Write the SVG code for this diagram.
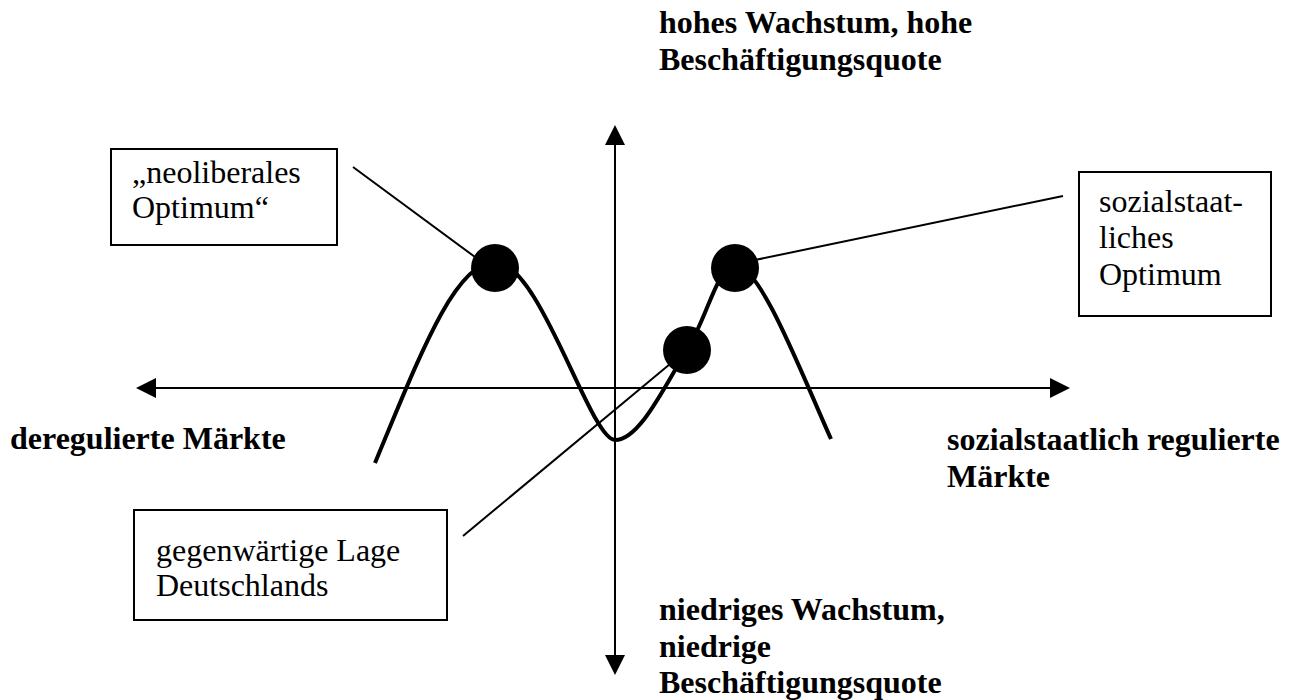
<svg xmlns="http://www.w3.org/2000/svg" width="1295" height="700" viewBox="0 0 1295 700">
<style>
text{font-family:"Liberation Serif","Times New Roman",serif;font-size:32px;fill:#000}
.b{font-weight:bold}
.box{fill:#fff;stroke:#000;stroke-width:2}
.axis{stroke:#000;stroke-width:2;fill:none}
.lead{stroke:#000;stroke-width:2;fill:none}
.curve{stroke:#000;stroke-width:4;fill:none}
.dot{fill:#000}
</style>
<defs>
<marker id="ah" markerUnits="userSpaceOnUse" markerWidth="20" markerHeight="20" refX="0" refY="10" orient="auto-start-reverse">
<path d="M0,0 L20,10 L0,20 z" fill="#000"/>
</marker>
</defs>
<rect width="1295" height="700" fill="#fff"/>
<g id="axes">
<line class="axis" x1="156" y1="388" x2="1050" y2="388" marker-start="url(#ah)" marker-end="url(#ah)"/>
<line class="axis" x1="615" y1="145" x2="615" y2="655" marker-start="url(#ah)" marker-end="url(#ah)"/>
</g>
<g id="curve">
<path class="curve" d="M375,463 C420,355 455,262 495,262 C540,262 590,440 615,440 C640,440 665,385 687,350 C707,318 718,265 735,265 C760,265 800,370 831,439"/>
</g>
<g id="connectors">
<line class="lead" x1="353" y1="167" x2="475" y2="257"/>
<line class="lead" x1="755" y1="260" x2="1063" y2="196"/>
<line class="lead" x1="670" y1="364" x2="463" y2="536"/>
</g>
<g id="dot-neoliberal"><circle class="dot" cx="495" cy="268" r="24"/></g>
<g id="dot-sozial"><circle class="dot" cx="735" cy="268" r="24"/></g>
<g id="dot-deutschland"><circle class="dot" cx="687" cy="350" r="24"/></g>
<g id="box-neoliberal">
<rect class="box" x="111" y="149" width="226" height="96"/>
<text x="132" y="183">„neoliberales</text>
<text x="132" y="218">Optimum“</text>
</g>
<g id="box-sozial">
<rect class="box" x="1079" y="172" width="192" height="144"/>
<text x="1099" y="212">sozialstaat-</text>
<text x="1099" y="248">liches</text>
<text x="1099" y="285">Optimum</text>
</g>
<g id="box-deutschland">
<rect class="box" x="134" y="510" width="313" height="110"/>
<text x="156" y="561">gegenwärtige Lage</text>
<text x="156" y="596">Deutschlands</text>
</g>
<g id="label-top">
<text class="b" x="659" y="33">hohes Wachstum, hohe</text>
<text class="b" x="659" y="70">Beschäftigungsquote</text>
</g>
<g id="label-bottom">
<text class="b" x="659" y="620">niedriges Wachstum,</text>
<text class="b" x="659" y="657">niedrige</text>
<text class="b" x="659" y="693">Beschäftigungsquote</text>
</g>
<g id="label-left">
<text class="b" x="10" y="449">deregulierte Märkte</text>
</g>
<g id="label-right">
<text class="b" x="947" y="450">sozialstaatlich regulierte</text>
<text class="b" x="947" y="487">Märkte</text>
</g>
</svg>
